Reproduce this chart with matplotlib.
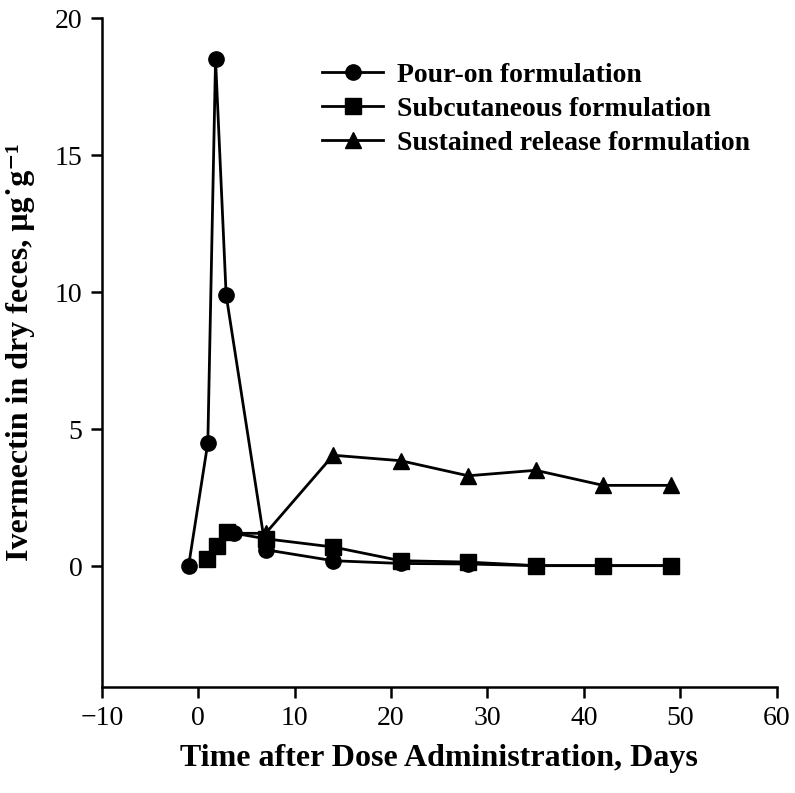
import matplotlib
matplotlib.use("Agg")
import matplotlib.pyplot as plt

plt.rcParams['font.family'] = ['Liberation Serif', 'DejaVu Serif']

# ivermectin concentration in dry feces (ug/g) by day after dosing
pour_on_days = [-1, 1, 1.8, 2.9, 7, 14, 21, 28, 35, 42, 49]
pour_on_conc = [0.0, 4.5, 18.5, 9.9, 0.6, 0.2, 0.1, 0.08, 0.02, 0.02, 0.02]

subcut_days = [0.9, 2.0, 3.0, 7, 14, 21, 28, 35, 42, 49]
subcut_conc = [0.28, 0.74, 1.25, 1.0, 0.7, 0.2, 0.15, 0.02, 0.02, 0.02]

sustained_days = [3.7, 7, 14, 21, 28, 35, 42, 49]
sustained_conc = [1.2, 1.2, 4.05, 3.85, 3.3, 3.5, 2.95, 2.95]

fig = plt.figure(figsize=(7.95, 7.93), dpi=100)
ax = fig.add_axes([0.128, 0.134, 0.849, 0.843])

kw = dict(color='black', lw=2, ms=11)
ax.plot(pour_on_days, pour_on_conc, marker='o', label='Pour-on formulation', **kw)
ax.plot(subcut_days, subcut_conc, marker='s', label='Subcutaneous formulation', **kw)
ax.plot(sustained_days, sustained_conc, marker='^', markevery=list(range(1, len(sustained_days))),
        label='Sustained release formulation', **kw)
ax.plot(sustained_days[:1], sustained_conc[:1], marker='o', ls='none', color='black', ms=11)

ax.set_xlim(-10, 60)
ax.set_ylim(-4.4, 20)
ax.set_xticks(range(-10, 61, 10))
ax.set_xticklabels(['\u221210'] + [str(v) for v in range(0, 61, 10)])
ax.set_yticks([0, 5, 10, 15, 20])

for side in ['top', 'right']:
    ax.spines[side].set_visible(False)
for side in ['left', 'bottom']:
    ax.spines[side].set_linewidth(1.8)
ax.tick_params(direction='out', length=8, width=1.8, labelsize=20, pad=6)

ax.set_xlabel('Time after Dose Administration, Days', fontsize=23, fontweight='bold', labelpad=9)
ax.set_ylabel('Ivermectin in dry feces, \u03bcg\u02d9g\u207b\u00b9', fontsize=23, fontweight='bold', labelpad=14)

ax.legend(loc='upper left', bbox_to_anchor=(0.31, 0.95), frameon=False,
          prop={'size': 20, 'weight': 'bold'}, handlelength=2.2, labelspacing=0.3,
          handletextpad=0.5, borderaxespad=0)

fig.savefig('out.png', dpi=100)
